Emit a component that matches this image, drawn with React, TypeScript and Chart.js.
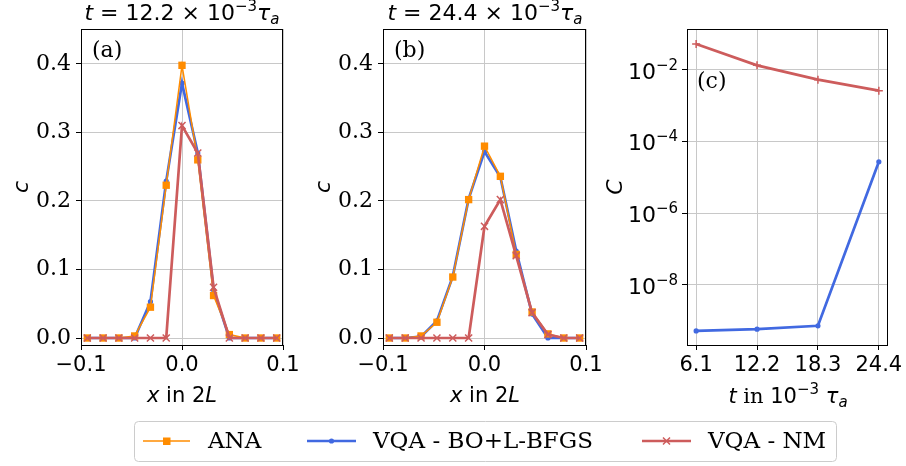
import React, { useEffect, useRef } from 'react';
import { Chart, registerables } from 'chart.js';
Chart.register(...registerables);

// ---------- data ----------
const xPositions = [-0.09375, -0.078125, -0.0625, -0.046875, -0.03125, -0.015625, 0, 0.015625, 0.03125, 0.046875, 0.0625, 0.078125, 0.09375];
const anaA = [0, 0, 0, 0.003, 0.045, 0.223, 0.398, 0.26, 0.062, 0.005, 0, 0, 0];
const boA = [0, 0, 0, 0, 0.053, 0.229, 0.372, 0.27, 0.07, 0, 0, 0, 0];
const nmA = [0, 0, 0, 0, 0, 0, 0.31, 0.27, 0.074, 0, 0, 0, 0];
const anaB = [0, 0, 0.003, 0.023, 0.089, 0.202, 0.28, 0.236, 0.122, 0.038, 0.006, 0, 0];
const boB = [0, 0, 0.002, 0.025, 0.09, 0.203, 0.272, 0.235, 0.127, 0.035, 0, 0, 0];
const nmB = [0, 0, 0, 0, 0, 0, 0.163, 0.202, 0.12, 0.037, 0.005, 0, 0];
const times = [6.1, 12.2, 18.3, 24.4];
const nmC = [0.052, 0.0132, 0.00526, 0.0026];
const boC = [5.2e-10, 5.8e-10, 7.2e-10, 2.7e-5];
const profileYTicks = [0, 0.1, 0.2, 0.3, 0.4];
const profileXTicks = [-0.1, 0, 0.1];
const logYTicks = [1e-8, 1e-6, 1e-4, 1e-2];
const logExponents = ['−8', '−6', '−4', '−2'];
const seriesNames = ['ANA', 'VQA - BO+L-BFGS', 'VQA - NM'];

// ---------- style ----------
const W = 906, H = 466;
const TOP = 29, BOTTOM = 345;
const ORANGE = '#ff8c00', BLUE = '#4169e1', RED = '#cd5c5c';
const GRID = '#c8c8c8';
const SANS = 'DejaVu Sans';
const SERIF = 'DejaVu Serif';

type Seg = { t: string; f: string; dy?: number };
function drawRich(ctx: CanvasRenderingContext2D, segs: Seg[], x: number, y: number, align: 'left' | 'center' | 'right') {
  ctx.save();
  ctx.textBaseline = 'alphabetic';
  ctx.textAlign = 'left';
  ctx.fillStyle = '#000';
  let w = 0;
  const ws = segs.map(s => { ctx.font = s.f; const m = ctx.measureText(s.t).width; w += m; return m; });
  let cx = align === 'left' ? x : align === 'center' ? x - w / 2 : x - w;
  segs.forEach((s, i) => { ctx.font = s.f; ctx.fillText(s.t, cx, y + (s.dy || 0)); cx += ws[i]; });
  ctx.restore();
}

function titleSegs(val: string): Seg[] {
  return [
    { t: 't', f: `italic 22px ${SANS}` },
    { t: ` = ${val} × 10`, f: `22px ${SANS}` },
    { t: '−3', f: `15px ${SANS}`, dy: -9 },
    { t: 'τ', f: `italic 22px ${SANS}` },
    { t: 'a', f: `italic 15px ${SANS}`, dy: 4 },
  ];
}

function drawYLabel(ctx: CanvasRenderingContext2D, text: string, x: number, y: number) {
  ctx.save();
  ctx.translate(x, y);
  ctx.rotate(-Math.PI / 2);
  drawRich(ctx, [{ t: text, f: `italic 22px ${SANS}` }], 0, 0, 'center');
  ctx.restore();
}

function frame(chart: any) {
  const { ctx, chartArea: a } = chart;
  ctx.save();
  ctx.strokeStyle = '#000';
  ctx.lineWidth = 1;
  ctx.strokeRect(Math.round(a.left) + 0.5, Math.round(a.top) + 0.5, Math.round(a.right - a.left) - 1, Math.round(a.bottom - a.top));
  ctx.restore();
}

function pts(xs: number[], ys: number[]) { return xs.map((x, i) => ({ x, y: ys[i] })); }

function anaSet(ys: number[]) {
  return { label: seriesNames[0], data: pts(xPositions, ys), borderColor: ORANGE, backgroundColor: ORANGE, borderWidth: 1.5, pointStyle: 'rect', pointRadius: 5.2, pointBorderWidth: 0, order: 1 };
}
function boSet(xs: number[], ys: number[]) {
  return { label: seriesNames[1], data: pts(xs, ys), borderColor: BLUE, backgroundColor: BLUE, borderWidth: 2.7, pointStyle: 'circle', pointRadius: 2.6, pointBorderWidth: 0, order: 2 };
}
function nmSet(xs: number[], ys: number[], style: string, r: number) {
  return { label: seriesNames[2], data: pts(xs, ys), borderColor: RED, backgroundColor: RED, borderWidth: 2.7, pointStyle: style, pointRadius: r, pointBorderWidth: 1.5, order: 0 };
}

function makeChart(canvas: HTMLCanvasElement, cfg: any) {
  const gridCfg = { color: GRID, lineWidth: 1, tickColor: '#000', tickLength: 5, tickWidth: 1, drawTicks: true };
  return new Chart(canvas, {
    type: 'line',
    data: { datasets: cfg.datasets },
    options: {
      responsive: false,
      animation: false,
      devicePixelRatio: 1,
      events: [],
      layout: { padding: { left: 0, top: TOP, right: W - cfg.right, bottom: 0 } },
      plugins: { legend: { display: false }, tooltip: { enabled: false }, title: { display: false } },
      elements: { line: { tension: 0, fill: false } },
      scales: {
        x: {
          type: 'linear', min: cfg.xMin, max: cfg.xMax,
          afterBuildTicks: (s: any) => { s.ticks = cfg.xTicks.map((v: number) => ({ value: v })); },
          afterFit: (s: any) => { s.height = H - BOTTOM; },
          grid: gridCfg,
          border: { display: false },
          ticks: { color: '#000', font: { family: SANS, size: 21 }, padding: 3, maxRotation: 0, autoSkip: false, callback: cfg.xFmt },
        },
        y: {
          type: cfg.yType, min: cfg.yMin, max: cfg.yMax,
          afterBuildTicks: (s: any) => { s.ticks = cfg.yTicks.map((v: number) => ({ value: v })); },
          afterFit: (s: any) => { s.width = cfg.left; },
          grid: gridCfg,
          border: { display: false },
          ticks: { display: cfg.yFmt !== null, color: '#000', font: { family: SERIF, size: 22 }, padding: 5, autoSkip: false, callback: cfg.yFmt || ((v: number) => String(v)) },
        },
      },
    } as any,
    plugins: [{ id: 'deco', afterDraw: (chart: any) => { frame(chart); cfg.draw(chart); } }],
  });
}

const fmtSigned = (v: number) => (v < 0 ? '−' : '') + Math.abs(v).toFixed(1);
const fmtOne = (v: number) => v.toFixed(1);

export default function App() {
  const ra = useRef<HTMLCanvasElement>(null);
  const rb = useRef<HTMLCanvasElement>(null);
  const rc = useRef<HTMLCanvasElement>(null);

  useEffect(() => {
    const ca = makeChart(ra.current!, {
      left: 81, right: 283, xMin: -0.1, xMax: 0.1, xTicks: profileXTicks, xFmt: fmtSigned,
      yType: 'linear', yMin: -0.0102, yMax: 0.451, yTicks: profileYTicks, yFmt: fmtOne,
      datasets: [nmSet(xPositions, nmA, 'crossRot', 5), anaSet(anaA), boSet(xPositions, boA)],
      draw: (chart: any) => {
        const ctx = chart.ctx;
        drawRich(ctx, titleSegs('12.2'), 182, 20, 'center');
        drawRich(ctx, [{ t: '(a)', f: `22px ${SERIF}` }], 92, 57, 'left');
        drawRich(ctx, [{ t: 'x', f: `italic 21px ${SANS}` }, { t: ' in 2', f: `21px ${SANS}` }, { t: 'L', f: `italic 21px ${SANS}` }], 182, 402, 'center');
        drawYLabel(ctx, 'c', 28, 187);
      },
    });
    const cb = makeChart(rb.current!, {
      left: 383, right: 586, xMin: -0.1, xMax: 0.1, xTicks: profileXTicks, xFmt: fmtSigned,
      yType: 'linear', yMin: -0.0102, yMax: 0.451, yTicks: profileYTicks, yFmt: fmtOne,
      datasets: [nmSet(xPositions, nmB, 'crossRot', 5), anaSet(anaB), boSet(xPositions, boB)],
      draw: (chart: any) => {
        const ctx = chart.ctx;
        drawRich(ctx, titleSegs('24.4'), 485, 20, 'center');
        drawRich(ctx, [{ t: '(b)', f: `22px ${SERIF}` }], 394, 57, 'left');
        drawRich(ctx, [{ t: 'x', f: `italic 21px ${SANS}` }, { t: ' in 2', f: `21px ${SANS}` }, { t: 'L', f: `italic 21px ${SANS}` }], 485, 402, 'center');
        drawYLabel(ctx, 'c', 330, 187);
      },
    });
    const cc = makeChart(rc.current!, {
      left: 687, right: 889, xMin: 5.185, xMax: 25.315, xTicks: times, xFmt: fmtOne,
      yType: 'logarithmic', yMin: 2.1e-10, yMax: 0.136, yTicks: logYTicks, yFmt: null,
      datasets: [nmSet(times, nmC, 'cross', 4), boSet(times, boC)],
      draw: (chart: any) => {
        const ctx = chart.ctx;
        const ys = chart.scales.y;
        logYTicks.forEach((v, i) => {
          const py = ys.getPixelForValue(v);
          drawRich(ctx, [{ t: '10', f: `22px ${SANS}` }, { t: logExponents[i], f: `15px ${SANS}`, dy: -9 }], 678, py + 9, 'right');
        });
        drawRich(ctx, [{ t: '(c)', f: `22px ${SERIF}` }], 697, 88, 'left');
        drawRich(ctx, [
          { t: 't', f: `italic 21px ${SANS}` },
          { t: ' in ', f: `21px ${SERIF}` },
          { t: '10', f: `21px ${SANS}` },
          { t: '−3', f: `15px ${SANS}`, dy: -9 },
          { t: ' τ', f: `italic 21px ${SANS}` },
          { t: 'a', f: `italic 15px ${SANS}`, dy: 4 },
        ], 788, 403, 'center');
        drawYLabel(ctx, 'C', 622, 187);

        // legend
        ctx.save();
        ctx.fillStyle = '#fff';
        ctx.strokeStyle = '#cccccc';
        ctx.lineWidth = 1;
        ctx.beginPath();
        (ctx as any).roundRect(134.5, 421.5, 702, 40, 4);
        ctx.fill();
        ctx.stroke();
        const ly = 441;
        // ANA
        ctx.strokeStyle = ORANGE; ctx.lineWidth = 1.5;
        ctx.beginPath(); ctx.moveTo(143, ly); ctx.lineTo(190, ly); ctx.stroke();
        ctx.fillStyle = ORANGE; ctx.fillRect(163, ly - 3.5, 7.5, 7.5);
        // BO
        ctx.strokeStyle = BLUE; ctx.lineWidth = 2.7;
        ctx.beginPath(); ctx.moveTo(307, ly); ctx.lineTo(356, ly); ctx.stroke();
        ctx.fillStyle = BLUE; ctx.beginPath(); ctx.arc(331.5, ly, 2.6, 0, Math.PI * 2); ctx.fill();
        // NM
        ctx.strokeStyle = RED; ctx.lineWidth = 2.7;
        ctx.beginPath(); ctx.moveTo(642, ly); ctx.lineTo(691, ly); ctx.stroke();
        ctx.lineWidth = 1.5;
        ctx.beginPath(); ctx.moveTo(663, ly - 3.5); ctx.lineTo(670, ly + 3.5); ctx.moveTo(670, ly - 3.5); ctx.lineTo(663, ly + 3.5); ctx.stroke();
        ctx.restore();
        drawRich(ctx, [{ t: seriesNames[0], f: `23px ${SERIF}` }], 208, 448, 'left');
        drawRich(ctx, [{ t: seriesNames[1], f: `23px ${SERIF}` }], 373, 448, 'left');
        drawRich(ctx, [{ t: seriesNames[2], f: `23px ${SERIF}` }], 708, 448, 'left');
      },
    });
    return () => { ca.destroy(); cb.destroy(); cc.destroy(); };
  }, []);

  const cs: React.CSSProperties = { position: 'absolute', left: 0, top: 0, width: W, height: H };
  return (
    <div style={{ position: 'absolute', left: 0, top: 0, width: W, height: H, background: '#fff' }}>
      <canvas ref={ra} width={W} height={H} style={cs} />
      <canvas ref={rb} width={W} height={H} style={cs} />
      <canvas ref={rc} width={W} height={H} style={cs} />
    </div>
  );
}
